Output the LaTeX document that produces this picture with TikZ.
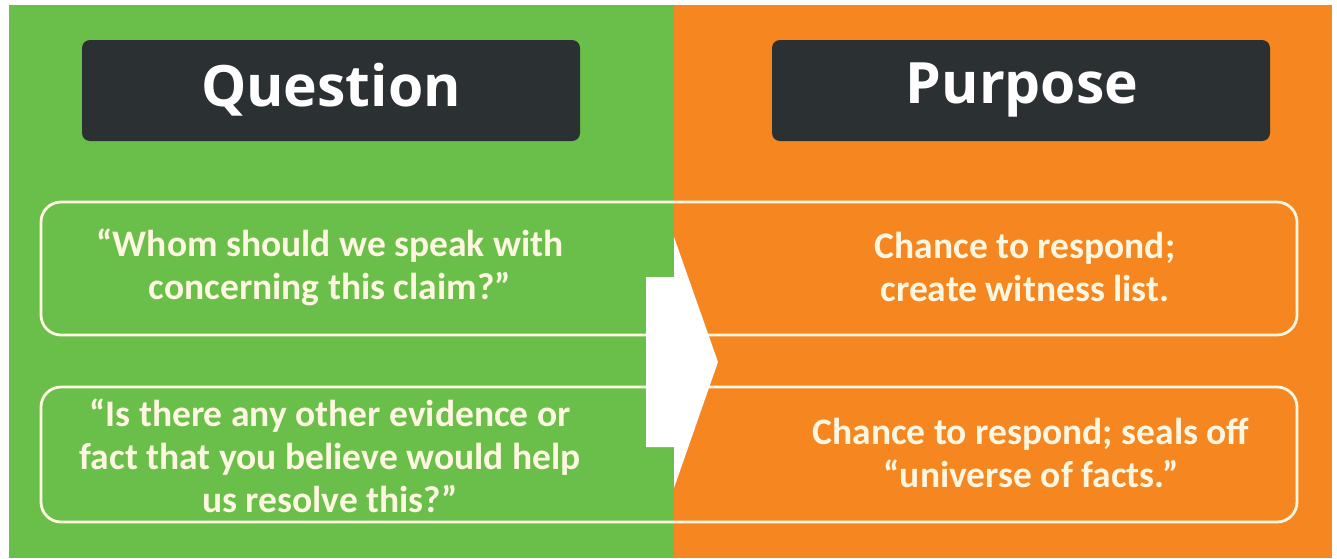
\documentclass[tikz,border=0pt]{standalone}
\usepackage{fontspec}
\setmainfont{Carlito}
\newfontfamily\titlefont{Open Sans}
\definecolor{bggreen}{HTML}{6ABF4B}
\definecolor{bgorange}{HTML}{F58620}
\definecolor{darkbox}{HTML}{2B3033}
\definecolor{cream}{HTML}{FDF6E0}
\begin{document}
\begin{tikzpicture}[x=1pt,y=-1pt,
  titlebox/.style={fill=darkbox,rounded corners=8pt},
  titletext/.style={text=white,font=\titlefont\bfseries\fontsize{57}{60}\selectfont},
  outline/.style={draw=cream,line width=2.8pt,rounded corners=20pt},
  bodytext/.style={text=cream,align=center,font=\bfseries\fontsize{37.5}{43}\selectfont}]
\useasboundingbox (0,0) rectangle (1337,558);
\fill[white] (0,0) rectangle (1337,558);
\fill[bggreen] (9,5) rectangle (674,558);
\fill[bgorange] (674,5) rectangle (1332,558);
% title boxes
\fill[titlebox] (82,40) rectangle (580,141);
\fill[titlebox] (772,40) rectangle (1270,141);
\node[titletext] (q) at (331,90) {Question};
\node[titletext] (p) at (1022,90) {Purpose};
% outline boxes
\draw[outline] (41,202) rectangle (1297,335);
\draw[outline] (41,387) rectangle (1297,522);
% arrow
\fill[white] (646,277) -- (674,277) -- (674,237) -- (718,362) -- (674,488) -- (674,447) -- (646,447) -- cycle;
% texts
\node[bodytext] (q1) at (330,267) {“Whom should we speak with\\concerning this claim?”};
\node[bodytext] (p1) at (1025,267) {Chance to respond;\\create witness list.};
\node[bodytext] (q2) at (330,456) {“Is there any other evidence or\\fact that you believe would help\\us resolve this?”};
\node[bodytext] (p2) at (1031,453) {Chance to respond; seals off\\“universe of facts.”};
\end{tikzpicture}
\end{document}
